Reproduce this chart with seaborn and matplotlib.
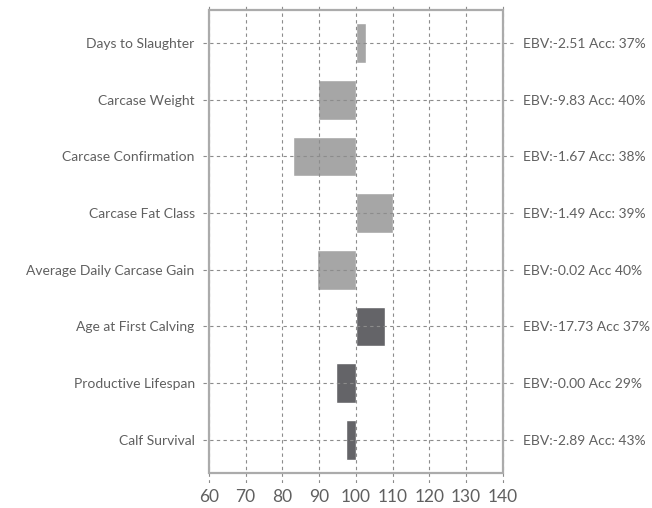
import pandas as pd
import matplotlib.pyplot as plt
import seaborn as sns
from matplotlib.patches import Rectangle

traits = ["Days to Slaughter", "Carcase Weight", "Carcase Confirmation",
          "Carcase Fat Class", "Average Daily Carcase Gain",
          "Age at First Calving", "Productive Lifespan", "Calf Survival"]
index_values = [102.7, 89.8, 83.0, 110.2, 89.5, 107.8, 94.7, 97.4]
groups = ["beef"] * 5 + ["maternal"] * 3
ebv_labels = ["EBV:-2.51 Acc: 37%", "EBV:-9.83 Acc: 40%", "EBV:-1.67 Acc: 38%",
              "EBV:-1.49 Acc: 39%", "EBV:-0.02 Acc 40%", "EBV:-17.73 Acc 37%",
              "EBV:-0.00 Acc 29%", "EBV:-2.89 Acc: 43%"]
xticks = [60, 70, 80, 90, 100, 110, 120, 130, 140]
BASE = 100

sns.set_theme(style="white")
plt.rcParams['font.family'] = ['Lato', 'DejaVu Sans']
text_col = "#606060"

df = pd.DataFrame({"trait": traits, "value": index_values, "group": groups})
df["offset"] = df["value"] - BASE

fig = plt.figure(figsize=(6.52, 5.08), dpi=100)
ax = fig.add_axes([0.3113, 0.0492, 0.4786, 0.9410])

sns.barplot(data=df, x="value", y="trait", hue="group", order=traits,
            palette={"beef": "#a6a6a6", "maternal": "#636369"},
            width=0.7, legend=False, ax=ax)
# bars start at the 100 baseline, not at 0
for bar, off in zip(ax.patches, df["offset"]):
    bar.set_x(BASE)
    bar.set_width(off)
    bar.set_zorder(1)

ax.set_xlim(58.4, 143.3)
ax.set_ylim(7.76, -0.67)
ax.set_xticks(xticks)
ax.set_xlabel("")
ax.set_ylabel("")
for s in ax.spines.values():
    s.set_visible(False)
ax.grid(True, axis="both", color="#8c8c8c", linestyle=(0, (3, 3)), linewidth=0.8, zorder=2)
ax.set_axisbelow(False)
ax.tick_params(axis="both", length=0)
ax.tick_params(axis="y", pad=6, labelsize=10, labelcolor=text_col)
ax.tick_params(axis="x", pad=4, labelsize=12.5, labelcolor=text_col)

ax.add_patch(Rectangle((60, -0.58), 80, 8.16, fill=False, edgecolor="#ababab",
                       linewidth=1.6, zorder=3))

ax2 = ax.twinx()
ax2.set_ylim(ax.get_ylim())
ax2.set_yticks(range(len(traits)))
ax2.set_yticklabels(ebv_labels)
ax2.tick_params(axis="y", length=0, pad=6, labelsize=10, labelcolor=text_col)
ax2.grid(False)
for s in ax2.spines.values():
    s.set_visible(False)

fig.savefig("out.png", dpi=100)
